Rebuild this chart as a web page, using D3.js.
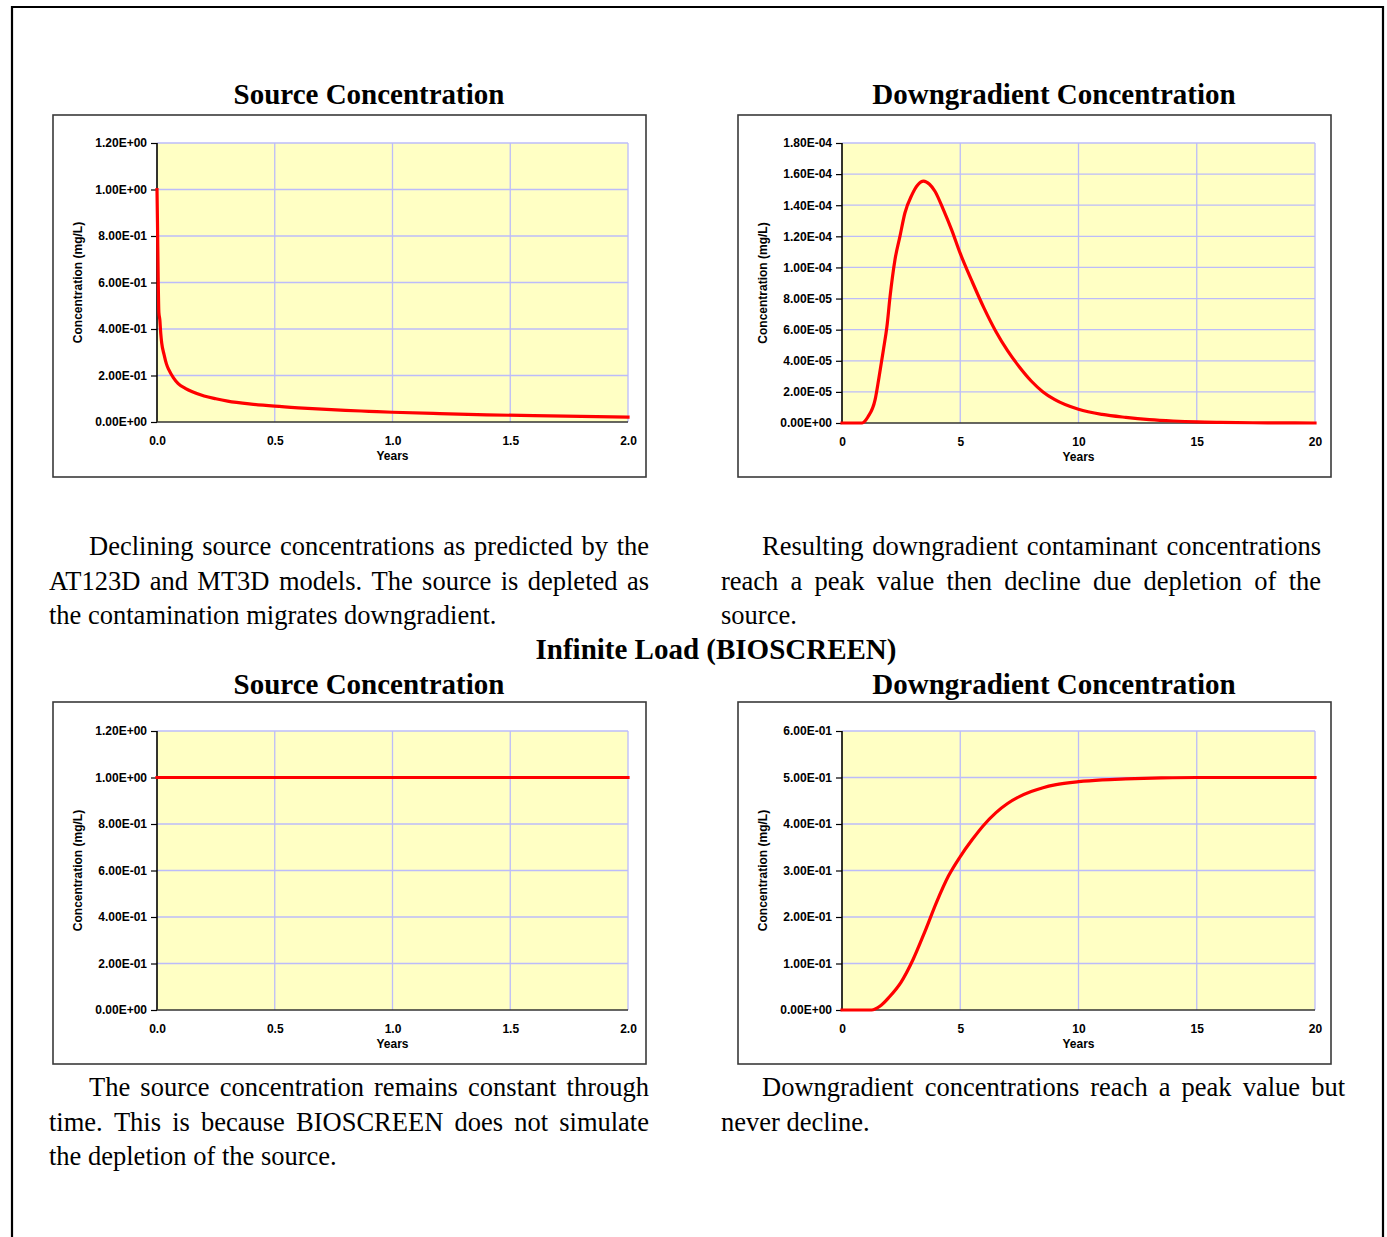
<!DOCTYPE html>
<html>
<head>
<meta charset="utf-8">
<script src="https://cdn.jsdelivr.net/npm/d3@7/dist/d3.min.js"></script>
<style>
  html, body { margin: 0; padding: 0; background: #fff; }
  svg { display: block; }
</style>
</head>
<body>
<svg id="page" width="1387" height="1237"></svg>
<script>
// ---------- DATA ----------
// Chart 1: Source concentration (depleting source), years 0-2
const srcYears = [0, 0.002, 0.005, 0.008, 0.012, 0.016, 0.02, 0.03, 0.04, 0.05, 0.07, 0.09, 0.12, 0.15, 0.2, 0.25, 0.3, 0.4, 0.5, 0.6, 0.7, 0.8, 0.9, 1.0, 1.2, 1.4, 1.6, 1.8, 2.0];
const srcConc  = [1.0, 0.86, 0.62, 0.47, 0.44, 0.38, 0.34, 0.29, 0.25, 0.225, 0.19, 0.165, 0.145, 0.13, 0.112, 0.1, 0.09, 0.077, 0.068, 0.061, 0.055, 0.05, 0.046, 0.042, 0.036, 0.031, 0.027, 0.024, 0.021];

// Chart 2: Downgradient concentration (depleting source), years 0-20
const dgYears = [0, 0.5, 0.85, 1.1, 1.4, 1.55, 1.75, 1.9, 2.03, 2.24, 2.45, 2.66, 2.95, 3.2, 3.45, 3.7, 3.93, 4.29, 4.64, 5.0, 5.5, 6.0, 6.5, 7.0, 7.5, 8.0, 8.5, 9.0, 10.0, 11.0, 12.0, 13.0, 14.0, 15.0, 16.0, 18.0, 20.0];
const dgConc  = [0, 0, 0, 4.0e-6, 1.5e-5, 2.8e-5, 4.7e-5, 6.2e-5, 8.1e-5, 1.05e-4, 1.2e-4, 1.35e-4, 1.465e-4, 1.53e-4, 1.555e-4, 1.535e-4, 1.49e-4, 1.37e-4, 1.24e-4, 1.09e-4, 9.1e-5, 7.4e-5, 5.9e-5, 4.65e-5, 3.6e-5, 2.7e-5, 2.0e-5, 1.5e-5, 8.8e-6, 5.5e-6, 3.6e-6, 2.2e-6, 1.3e-6, 7e-7, 4e-7, 1e-7, 0];

// Chart 3: Source concentration (infinite load), years 0-2
const infSrcYears = [0, 0.5, 1.0, 1.5, 2.0];
const infSrcConc  = [1.0, 1.0, 1.0, 1.0, 1.0];

// Chart 4: Downgradient concentration (infinite load), years 0-20
const infDgYears = [0, 0.8, 1.25, 1.6, 2.0, 2.5, 3.0, 3.5, 4.0, 4.5, 5.0, 5.5, 6.0, 6.5, 7.0, 7.5, 8.0, 8.5, 9.0, 10.0, 11.0, 12.0, 13.5, 15.0, 17.5, 20.0];
const infDgConc  = [0, 0, 0, 0.008, 0.028, 0.06, 0.108, 0.168, 0.232, 0.288, 0.33, 0.366, 0.398, 0.424, 0.444, 0.459, 0.47, 0.478, 0.484, 0.491, 0.495, 0.497, 0.499, 0.5, 0.5, 0.5];

// Tick values
const xTicksShort = [0, 0.5, 1.0, 1.5, 2.0];
const xTicksLong  = [0, 5, 10, 15, 20];
const yTicksSrc   = [0, 0.2, 0.4, 0.6, 0.8, 1.0, 1.2];
const yTicksDg    = [0, 2e-5, 4e-5, 6e-5, 8e-5, 1e-4, 1.2e-4, 1.4e-4, 1.6e-4, 1.8e-4];
const yTicksInfDg = [0, 0.1, 0.2, 0.3, 0.4, 0.5, 0.6];

// Text
const chartTitleSrc = "Source Concentration";
const chartTitleDg = "Downgradient Concentration";
const sectionTitle = "Infinite Load (BIOSCREEN)";
const yAxisLabel = "Concentration (mg/L)";
const xAxisLabel = "Years";
const para1 = ["Declining source concentrations as predicted by the", "AT123D and MT3D models.  The source is depleted as", "the contamination migrates downgradient."];
const para2 = ["Resulting downgradient contaminant concentrations", "reach a peak value then decline due depletion of the", "source."];
const para3 = ["The source concentration remains constant through", "time.  This is because BIOSCREEN does not simulate", "the depletion of the source."];
const para4 = ["Downgradient concentrations reach a peak value but", "never decline."];

// ---------- DRAW ----------
const svg = d3.select("#page");
svg.append("rect").attr("width", 1387).attr("height", 1237).attr("fill", "#fff");

// outer page border (no bottom edge visible)
svg.append("path")
  .attr("d", "M12,1240 L12,7 L1383,7 L1383,1240")
  .attr("fill", "none").attr("stroke", "#000").attr("stroke-width", 2.2);

const serif = "'Liberation Serif', 'Times New Roman', serif";
const sans = "'Liberation Sans', Arial, sans-serif";

function expFmt(v) {
  let s = v.toExponential(2).toUpperCase();
  return s.replace(/E([+-])(\d)$/, "E$10$2");
}

function drawChart(cfg) {
  const g = svg.append("g");
  // chart box
  g.append("rect")
    .attr("x", cfg.box[0]).attr("y", cfg.box[1])
    .attr("width", cfg.box[2] - cfg.box[0]).attr("height", cfg.box[3] - cfg.box[1])
    .attr("fill", "#fff").attr("stroke", "#3a3a3a").attr("stroke-width", 1.6);

  const x = d3.scaleLinear().domain(cfg.xDomain).range([cfg.plot[0], cfg.plot[2]]);
  const y = d3.scaleLinear().domain(cfg.yDomain).range([cfg.plot[3], cfg.plot[1]]);

  g.append("rect")
    .attr("x", cfg.plot[0]).attr("y", cfg.plot[1])
    .attr("width", cfg.plot[2] - cfg.plot[0]).attr("height", cfg.plot[3] - cfg.plot[1])
    .attr("fill", "#FFFFC4");

  // gridlines
  g.selectAll(".hg").data(cfg.yTicks.slice(1)).enter().append("line")
    .attr("x1", cfg.plot[0]).attr("x2", cfg.plot[2])
    .attr("y1", d => y(d)).attr("y2", d => y(d))
    .attr("stroke", "#BCBCFA").attr("stroke-width", 1.3);
  g.selectAll(".vg").data(cfg.xTicks.slice(1)).enter().append("line")
    .attr("x1", d => x(d)).attr("x2", d => x(d))
    .attr("y1", cfg.plot[1]).attr("y2", cfg.plot[3])
    .attr("stroke", "#BCBCFA").attr("stroke-width", 1.3);

  // y axis
  const yAxis = d3.axisLeft(y).tickValues(cfg.yTicks).tickFormat(expFmt).tickSize(6).tickPadding(4);
  const ya = g.append("g").attr("transform", `translate(${cfg.plot[0]},0)`).call(yAxis);
  ya.select(".domain").attr("stroke", "#000").attr("stroke-width", 1.6)
    .attr("d", `M0,${cfg.plot[3]}V${cfg.plot[1]}`);
  ya.selectAll(".tick line").attr("stroke", "#000").attr("stroke-width", 1.2);
  ya.selectAll(".tick text").attr("font-family", sans).attr("font-weight", "bold")
    .attr("font-size", "12px").attr("fill", "#000");

  // x axis
  const xAxis = d3.axisBottom(x).tickValues(cfg.xTicks).tickFormat(cfg.xFmt).tickSize(0).tickPadding(14);
  const xa = g.append("g").attr("transform", `translate(0,${cfg.plot[3]})`).call(xAxis);
  xa.select(".domain").attr("stroke", "#333").attr("stroke-width", 1.6)
    .attr("d", `M${cfg.plot[0]},0H${cfg.plot[2]}`);
  xa.selectAll(".tick text").attr("font-family", sans).attr("font-weight", "bold")
    .attr("font-size", "12px").attr("fill", "#000");

  // axis labels
  g.append("text")
    .attr("x", (cfg.plot[0] + cfg.plot[2]) / 2).attr("y", cfg.plot[3] + 38)
    .attr("text-anchor", "middle").attr("font-family", sans).attr("font-weight", "bold")
    .attr("font-size", "12px").text(xAxisLabel);
  g.append("text")
    .attr("transform", `translate(${cfg.box[0] + 29},${(cfg.plot[1] + cfg.plot[3]) / 2}) rotate(-90)`)
    .attr("text-anchor", "middle").attr("font-family", sans).attr("font-weight", "bold")
    .attr("font-size", "12px").text(yAxisLabel);

  // series line
  const pts = cfg.xs.map((v, i) => [v, cfg.ys[i]]);
  const line = d3.line().x(d => x(d[0])).y(d => y(d[1])).curve(d3.curveMonotoneX);
  g.append("path").datum(pts).attr("d", line)
    .attr("fill", "none").attr("stroke", "#FF0000").attr("stroke-width", 3.2)
    .attr("stroke-linejoin", "round").attr("stroke-linecap", "square");

  // title
  g.append("text")
    .attr("x", cfg.titleX).attr("y", cfg.titleY)
    .attr("text-anchor", "middle").attr("font-family", serif).attr("font-weight", "bold")
    .attr("font-size", "29px").text(cfg.title);
}

const fmt1 = d3.format(".1f");
const fmt0 = d3.format("d");

drawChart({ box: [53, 115, 646, 477], plot: [157, 143, 628, 422], xDomain: [0, 2], yDomain: [0, 1.2],
  xTicks: xTicksShort, yTicks: yTicksSrc, xFmt: fmt1, xs: srcYears, ys: srcConc, title: chartTitleSrc, titleX: 369, titleY: 104 });
drawChart({ box: [738, 115, 1331, 477], plot: [842, 143, 1315, 423], xDomain: [0, 20], yDomain: [0, 1.8e-4],
  xTicks: xTicksLong, yTicks: yTicksDg, xFmt: fmt0, xs: dgYears, ys: dgConc, title: chartTitleDg, titleX: 1054, titleY: 104 });
drawChart({ box: [53, 702, 646, 1064], plot: [157, 731, 628, 1010], xDomain: [0, 2], yDomain: [0, 1.2],
  xTicks: xTicksShort, yTicks: yTicksSrc, xFmt: fmt1, xs: infSrcYears, ys: infSrcConc, title: chartTitleSrc, titleX: 369, titleY: 694 });
drawChart({ box: [738, 702, 1331, 1064], plot: [842, 731, 1315, 1010], xDomain: [0, 20], yDomain: [0, 0.6],
  xTicks: xTicksLong, yTicks: yTicksInfDg, xFmt: fmt0, xs: infDgYears, ys: infDgConc, title: chartTitleDg, titleX: 1054, titleY: 694 });

// section title
svg.append("text").attr("x", 716).attr("y", 659).attr("text-anchor", "middle")
  .attr("font-family", serif).attr("font-weight", "bold").attr("font-size", "29px").text(sectionTitle);

// paragraphs
const measurer = svg.append("text").attr("font-family", serif).attr("font-size", "26.5px").attr("visibility", "hidden");
function wordWidth(w) { measurer.text(w); return measurer.node().getComputedTextLength(); }

function drawLine(text, x0, x1, yb, justify) {
  if (!justify) {
    svg.append("text").attr("x", x0).attr("y", yb).attr("font-family", serif)
      .attr("font-size", "26.5px").attr("fill", "#000").text(text);
    return;
  }
  const words = text.split(/\s+/);
  const widths = words.map(wordWidth);
  const total = d3.sum(widths);
  const gap = (x1 - x0 - total) / (words.length - 1);
  let cx = x0;
  words.forEach((w, i) => {
    svg.append("text").attr("x", cx).attr("y", yb).attr("font-family", serif)
      .attr("font-size", "26.5px").attr("fill", "#000").text(w);
    cx += widths[i] + gap;
  });
}

function drawPara(lines, left, right, indent, y0) {
  lines.forEach((t, i) => {
    const last = i === lines.length - 1;
    drawLine(t, i === 0 ? left + indent : left, right, y0 + i * 34.5, !last);
  });
}

drawPara(para1, 49, 649, 40, 555);
drawPara(para2, 721, 1321, 41, 555);
drawPara(para3, 49, 649, 40, 1096);
drawPara(para4, 721, 1345, 41, 1096);
measurer.remove();
</script>
</body>
</html>
